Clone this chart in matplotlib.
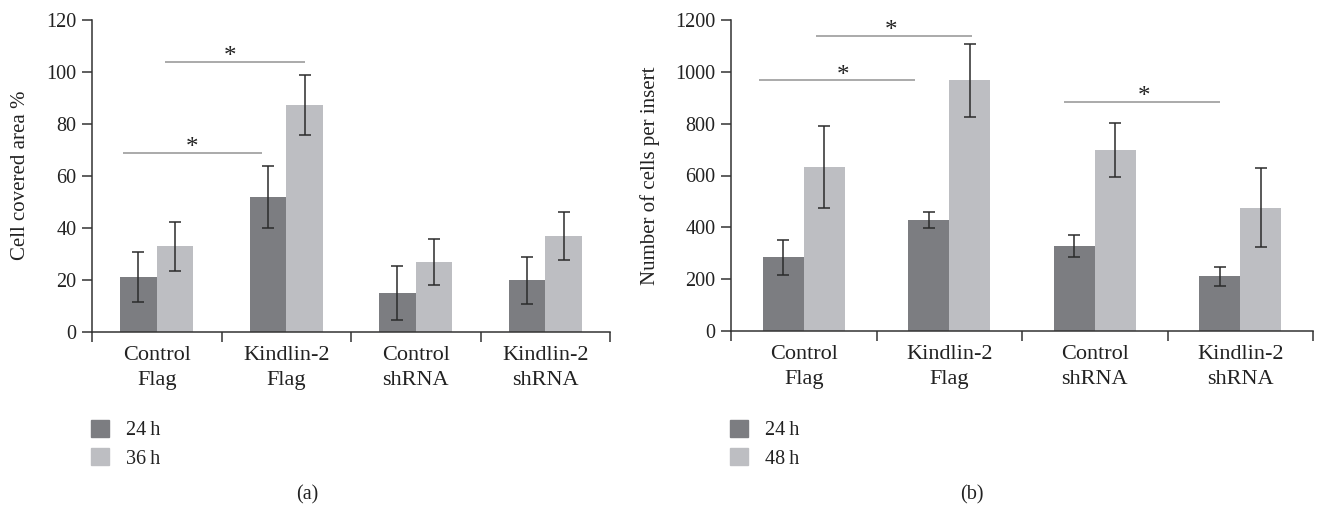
import numpy as np
import matplotlib.pyplot as plt
from matplotlib.patches import Patch

plt.rcParams['font.family'] = ['Liberation Serif', 'DejaVu Serif']

# Data
categories = ['Control\nFlag', 'Kindlin-2\nFlag', 'Control\nshRNA', 'Kindlin-2\nshRNA']

area_24h = [21.0, 51.8, 14.8, 19.8]
area_24h_err = [9.7, 12.1, 10.3, 9.0]
area_36h = [32.8, 87.2, 26.8, 36.9]
area_36h_err = [9.5, 11.6, 9.0, 9.3]

cells_24h = [285, 428, 328, 211]
cells_24h_err = [67, 32, 41, 37]
cells_48h = [633, 968, 698, 476]
cells_48h_err = [158, 141, 105, 153]

# significance bars: (x start, x end, y, star x)
sig_a = [(-0.26, 0.81, 68.7, 0.27), (0.064, 1.145, 103.7, 0.566)]
sig_b = [(-0.305, 0.765, 967, 0.27), (0.084, 1.154, 1138, 0.60), (1.79, 2.86, 885, 2.34)]

dark = '#7c7d81'
light = '#bdbec2'
ecol = '#2b2b2b'
tcol = '#222222'
w = 0.283

fig = plt.figure(figsize=(13.18, 5.07), dpi=100)
ax1 = fig.add_axes([92 / 1318, (507 - 331.7) / 507, 518 / 1318, 312 / 507])
ax2 = fig.add_axes([731 / 1318, (507 - 331) / 507, 582 / 1318, 311 / 507])


def draw_panel(ax, v1, e1, v2, e2, ymax, step, ylabel, sigs):
    x = np.arange(len(categories))
    ax.bar(x - w / 2, v1, w, color=dark)
    ax.bar(x + w / 2, v2, w, color=light)
    ax.errorbar(x - w / 2, v1, yerr=e1, fmt='none', ecolor=ecol, elinewidth=1.1, capsize=4.5, capthick=1.1)
    ax.errorbar(x + w / 2, v2, yerr=e2, fmt='none', ecolor=ecol, elinewidth=1.1, capsize=4.5, capthick=1.1)
    for x0, x1, y, sx in sigs:
        ax.plot([x0, x1], [y, y], color='#9c9c9c', lw=1.2, solid_capstyle='butt')
        ax.annotate('*', xy=(sx, y), xytext=(0, -1), textcoords='offset points',
                    ha='center', va='baseline', fontsize=18, color=tcol)
    ax.set_xlim(-0.5, len(categories) - 0.5)
    ax.set_ylim(0, ymax)
    ax.set_yticks(np.arange(0, ymax + 1, step))
    ax.set_xticks(x)
    ax.set_xticklabels(categories, fontsize=16, linespacing=1.45, color=tcol)
    ax.set_xticks(np.arange(-0.5, len(categories)), minor=True)
    ax.tick_params(axis='x', which='major', length=0, pad=10)
    ax.tick_params(axis='x', which='minor', length=7, width=1.1, direction='out', color='#333333')
    ax.tick_params(axis='y', length=7, width=1.1, direction='out', color='#333333', labelsize=14.5,
                   pad=4, labelcolor=tcol)
    for s in ['top', 'right']:
        ax.spines[s].set_visible(False)
    for s in ['left', 'bottom']:
        ax.spines[s].set_linewidth(1.1)
        ax.spines[s].set_color('#333333')
    ax.set_ylabel(ylabel, fontsize=15, color=tcol)


draw_panel(ax1, area_24h, area_24h_err, area_36h, area_36h_err, 120, 20,
           'Cell covered area %', sig_a)
draw_panel(ax2, cells_24h, cells_24h_err, cells_48h, cells_48h_err, 1200, 200,
           'Number of cells per insert', sig_b)
ax1.yaxis.set_label_coords(-62 / 518, 0.5)
ax2.yaxis.set_label_coords(-71 / 582, 0.5)

for xl, labs in [(91, ['24\u2009h', '36\u2009h']), (730, ['24\u2009h', '48\u2009h'])]:
    handles = [Patch(color=dark), Patch(color=light)]
    fig.legend(handles, labs, loc='upper left', bbox_to_anchor=(xl / 1318, 1 - 420 / 507),
               frameon=False, fontsize=14.5, handlelength=0.9, handleheight=0.9,
               handletextpad=0.85, labelspacing=0.4, borderpad=0, borderaxespad=0,
               labelcolor=tcol)

fig.text(307 / 1318, 1 - 495 / 507, '(a)', ha='center', va='center', fontsize=14.5, color=tcol)
fig.text(972 / 1318, 1 - 495 / 507, '(b)', ha='center', va='center', fontsize=14.5, color=tcol)

fig.savefig('out.png', dpi=100)
